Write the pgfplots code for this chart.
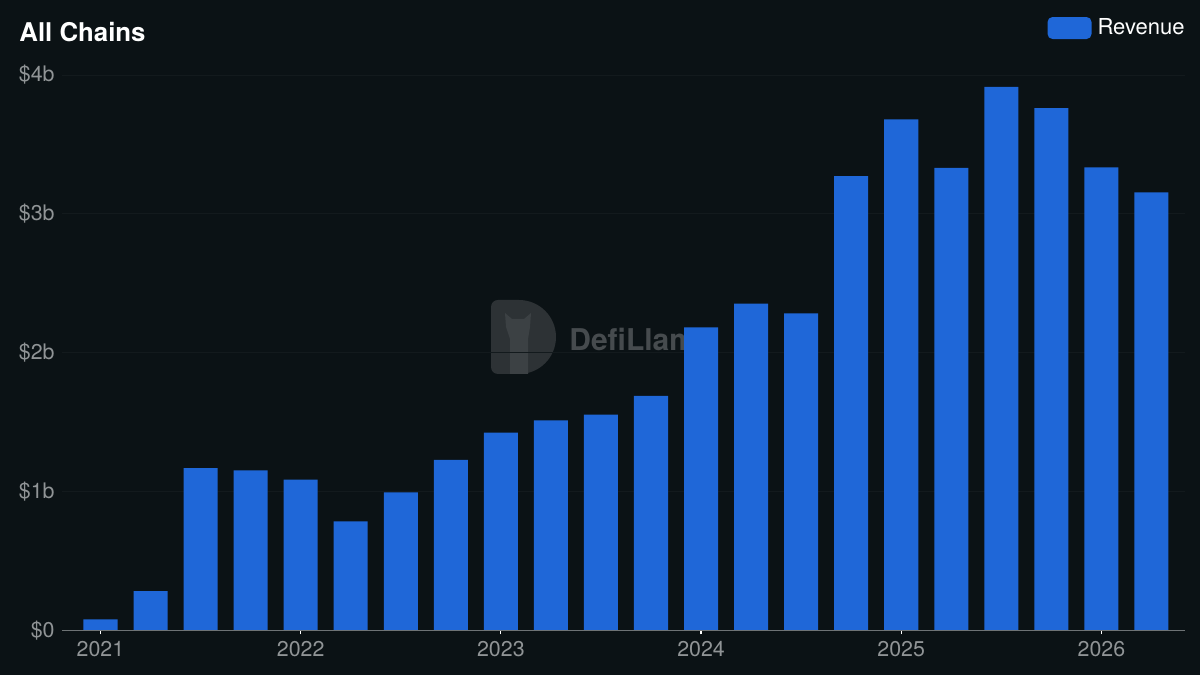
\documentclass[border=0pt]{standalone}
\usepackage{pgfplots}
\pgfplotsset{compat=1.18}
\usepackage{fontspec}
\setmainfont{TeX Gyre Heros}
\definecolor{bgcol}{HTML}{0B1215}
\definecolor{barcol}{HTML}{1F67D8}
\definecolor{tickgrey}{HTML}{909496}
\definecolor{gridcol}{HTML}{131A1D}
\definecolor{axcol}{HTML}{6E7375}
\definecolor{wmlogo}{HTML}{2D3235}
\definecolor{wmllama}{HTML}{3C4144}
\definecolor{wmtext}{HTML}{464B4E}
\begin{document}
\begin{tikzpicture}
\fill[bgcol] (0,0) rectangle (600pt,337.5pt);
% watermark
\fill[wmlogo] (249pt,150.5pt) -- (259.5pt,150.5pt) arc[start angle=-90,end angle=90,radius=18.5pt] -- (249pt,187.5pt) to[out=180,in=90] (245.5pt,184pt) -- (245.5pt,154pt) to[out=-90,in=180] cycle;
\fill[wmllama] (255pt,150.5pt) -- (255pt,168pt) -- (253pt,174pt) -- (252.5pt,181pt) -- (256pt,178pt) -- (262pt,178pt) -- (265.5pt,181pt) -- (265pt,174pt) -- (264pt,168pt) -- (264pt,150.5pt) -- cycle;
\node[anchor=base west, inner sep=0pt, text=wmtext, font=\bfseries\fontsize{15}{18}\selectfont] at (284.5pt,162pt) {DefiLlama};
% title
\node[anchor=base west, inner sep=0pt, text=white, font=\bfseries\fontsize{12.9}{15}\selectfont] at (9.5pt,316.6pt) {All Chains};
\begin{axis}[
  at={(31pt,22.25pt)}, anchor=south west,
  scale only axis, width=561.5pt, height=277.75pt,
  xmin=-0.769, xmax=21.67, ymin=0, ymax=4,
  axis x line*=bottom,
  axis y line*=left,
  axis line style={draw=none},
  ymajorgrids, grid style={gridcol, line width=0.5pt},
  xtick={0,4,8,12,16,20},
  xticklabels={2021,2022,2023,2024,2025,2026},
  tick align=outside, major tick length=2pt,
  xtick style={white, line width=0.6pt},
  ytick={0,1,2,3,4},
  yticklabels={\$0,\$1b,\$2b,\$3b,\$4b},
  ytick style={draw=none},
  ticklabel style={text=tickgrey, font=\fontsize{10.7}{12}\selectfont},
  xticklabel style={inner sep=0pt, yshift=-3.2pt},
  yticklabel style={inner sep=0pt, xshift=-1.5pt},
  bar width=0.68,
  legend style={at={(axis description cs:1,1.0846)}, anchor=east, draw=none, fill=none, inner sep=0pt, column sep=3pt, text=white, font=\fontsize{11}{13}\selectfont, nodes={inner sep=0pt}},
  legend image code/.code={\fill[barcol, rounded corners=2.5pt] (0pt,-5.5pt) rectangle (22pt,5.5pt);},
  clip=false,
]
\addplot[ybar, fill=barcol, draw=none] coordinates {
(0,0.081) (1,0.284) (2,1.170) (3,1.153) (4,1.086) (5,0.786) (6,0.995) (7,1.228)
(8,1.424) (9,1.513) (10,1.554) (11,1.690) (12,2.183) (13,2.353) (14,2.284)
(15,3.272) (16,3.680) (17,3.332) (18,3.915) (19,3.762) (20,3.335) (21,3.155)
};
\addlegendentry{Revenue}
\draw[axcol, line width=0.6pt] (axis cs:-0.769,0) -- (axis cs:21.67,0);
\end{axis}
\end{tikzpicture}
\end{document}
